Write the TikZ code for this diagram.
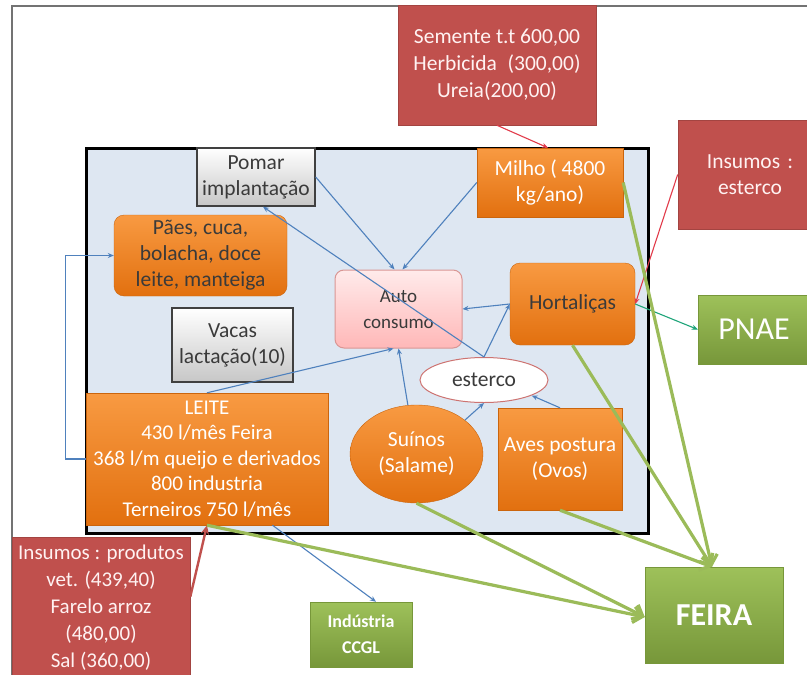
\documentclass[tikz,border=0pt]{standalone}
\usepackage{fontspec}
\setmainfont{Carlito}
\usetikzlibrary{arrows.meta,calc,shapes.geometric}
\definecolor{redbox}{HTML}{C0504D}
\definecolor{orangetop}{HTML}{F89A42}
\definecolor{orangebot}{HTML}{E2700F}
\definecolor{greentop}{HTML}{9EC15A}
\definecolor{greenbot}{HTML}{77973A}
\definecolor{lineblue}{HTML}{4F81BD}
\definecolor{linegreen}{HTML}{9BBB59}
\definecolor{linered}{HTML}{E23B4A}
\definecolor{lineteal}{HTML}{1FA57A}
\definecolor{bgblue}{HTML}{DEE7F2}
\definecolor{darktext}{HTML}{3A3A3A}
\begin{document}
\begin{tikzpicture}[x=1pt,y=-1pt,
  base/.style={inner sep=0pt, align=center, font=\fontsize{21.5}{26}\selectfont},
  redbx/.style={base, rectangle, fill=redbox, draw=redbox!85!black, line width=0.6pt, text=white!95!red},
  orangebx/.style={base, rectangle, top color=orangetop, bottom color=orangebot, draw=orangebot!90!black, line width=0.4pt, text=white},
  orangernd/.style={orangebx, rounded corners=10pt, text=darktext},
  greenbx/.style={base, rectangle, top color=greentop, bottom color=greenbot, draw=greenbot, line width=0.4pt, text=white},
  graybx/.style={base, rectangle, top color=white, bottom color=black!22, draw=black!75, line width=1.4pt, text=darktext},
  autobx/.style={base, rectangle, rounded corners=9pt, top color=red!8, bottom color=red!28, draw=redbox!60, line width=1pt, text=darktext, font=\fontsize{19}{26}\selectfont},
  bluearr/.style={draw=lineblue, line width=1.1pt, -{Stealth[length=6pt,width=5pt]}},
  greenarr/.style={draw=linegreen, line width=3.2pt, -{Straight Barb[length=9pt,width=16pt]}},
  redarr/.style={draw=linered, line width=1.1pt, -{Stealth[length=6pt,width=5pt]}}
]
\useasboundingbox (0,0) rectangle (807,675);
\fill[white] (0,0) rectangle (807,675);
% outer frame
\draw[black!55, line width=1.5pt] (12,690) -- (12,6) -- (820,6);
% inner farm box
\draw[fill=bgblue, draw=black, line width=3pt] (86,148) rectangle (648,533);

% nodes
\node[graybx, minimum width=118pt, minimum height=58pt] (pomar) at (256,177) {Pomar\\implantação};
\node[orangernd, minimum width=173pt, minimum height=81pt] (paes) at (200.5,255.5) {Pães, cuca,\\bolacha, doce\\leite, manteiga};
\node[graybx, minimum width=121pt, minimum height=74pt] (vacas) at (232.5,345) {Vacas\\lactação(10)};
\node[orangebx, minimum width=242pt, minimum height=132pt, font=\fontsize{21}{25.5}\selectfont] (leite) at (207,459) {LEITE\\430 l/mês Feira\\368 l/m queijo e derivados\\800 industria\\Terneiros 750 l/mês};
\node[redbx, minimum width=178pt, minimum height=142pt, font=\fontsize{21}{27}\selectfont] (insprod) at (101,608) {Insumos : produtos\\vet. (439,40)\\Farelo arroz\\(480,00)\\Sal (360,00)};
\node[greenbx, minimum width=102pt, minimum height=65pt, font=\bfseries\fontsize{18}{26}\selectfont] (ind) at (361,634.5) {Indústria\\CCGL};
\node[redbx, minimum width=198pt, minimum height=120pt, font=\fontsize{21.5}{27}\selectfont] (semente) at (497,65) {Semente t.t 600,00\\Herbicida\enspace(300,00)\\Ureia(200,00)};
\node[orangebx, minimum width=146pt, minimum height=69pt] (milho) at (550,182.5) {Milho ( 4800\\kg/ano)};
\node[redbx, minimum width=144pt, minimum height=109pt, text width=100pt] (insest) at (750,174.5) {Insumos :\\esterco};
\node[orangernd, minimum width=125pt, minimum height=82pt] (hort) at (572.5,304) {Hortaliças};
\node[greenbx, minimum width=112pt, minimum height=69pt, font=\fontsize{32}{32}\selectfont] (pnae) at (754,329.5) {PNAE};
\node[autobx, minimum width=127pt, minimum height=78pt] (auto) at (398.5,309) {Auto\\consumo};
\node[ellipse, base, fill=white, draw=redbox!80, line width=1pt, minimum width=128pt, minimum height=45pt, text=darktext] (esterco) at (484,380) {esterco};
\node[ellipse, base, top color=orangetop, bottom color=orangebot, draw=orangebot!90!black, line width=0.4pt, minimum width=133pt, minimum height=98pt, text=white] (suinos) at (416.5,454) {Suínos\\(Salame)};
\node[orangebx, minimum width=124pt, minimum height=102pt] (aves) at (560,459) {Aves postura\\(Ovos)};
\node[greenbx, minimum width=138pt, minimum height=96pt, font=\bfseries\fontsize{32}{32}\selectfont] (feira) at (714,615) {FEIRA};

% blue connectors
\draw[bluearr] (leite.west) -- ++(-20pt,0) |- (paes.west);
\draw[bluearr] (pomar.east) -- ($(auto.north)+(-4pt,0)$);
\draw[bluearr] (esterco.north) -- ($(pomar.south)+(7pt,0)$);
\draw[bluearr] (milho.west) -- ($(auto.north)+(4pt,0)$);
\draw[bluearr] (hort.west) -- (auto.east);
\draw[bluearr] (esterco.north) -- (hort.west);
\draw[bluearr] (leite.north) -- ($(auto.south)+(-5pt,0)$);
\draw[bluearr] (suinos.100) -- (auto.south);
\draw[bluearr] (suinos.35) -- (esterco.south);
\draw[bluearr] (aves.north) -- (esterco.-18);
\draw[bluearr] ($(leite.south east)!0.23!(leite.south west)$) -- ($(ind.north)+(15pt,0)$);

% red connectors
\draw[redarr] (semente.south) -- ($(milho.north)+(-2pt,0)$);
\draw[redarr] (insest.west) -- (hort.east);
\draw[draw=redbox, line width=2.4pt, -{Stealth[length=9pt,width=8pt]}] ($(insprod.north east)+(0,-60pt)$) -- (leite.south);

% teal connector
\draw[draw=lineteal, line width=1.1pt, -{Stealth[length=6pt,width=5pt]}] (hort.east) -- (pnae.west);

% green connectors to FEIRA
\draw[greenarr] (milho.east) -- ($(feira.north)+(-2pt,0)$);
\draw[greenarr] (hort.south) -- ($(feira.north)+(-2pt,0)$);
\draw[greenarr] (aves.south) -- ($(feira.north)+(-2pt,0)$);
\draw[greenarr] (suinos.south) -- ($(feira.west)+(0,-2pt)$);
\draw[greenarr] (leite.south) -- ($(feira.west)+(0,-2pt)$);
\end{tikzpicture}
\end{document}
